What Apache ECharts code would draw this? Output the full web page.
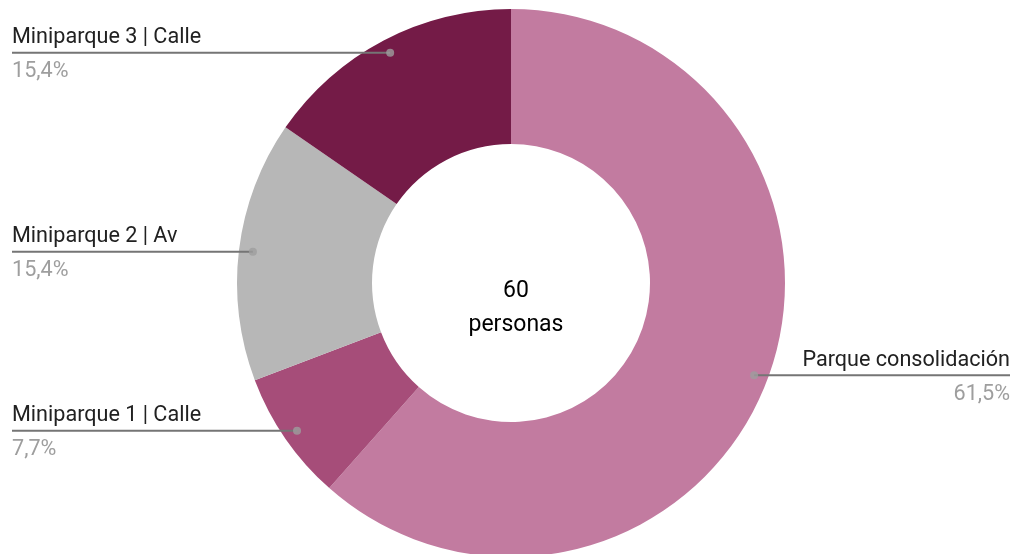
<!DOCTYPE html>
<html>
<head>
<meta charset="utf-8">
<script src="https://cdn.jsdelivr.net/npm/echarts@6/dist/echarts.min.js"></script>
<style>
html,body{margin:0;padding:0;background:#fff;}
#chart{width:1023px;height:554px;}
</style>
</head>
<body>
<div id="chart"></div>
<script>
const categories = ['Parque consolidación', 'Miniparque 1 | Calle', 'Miniparque 2 | Av', 'Miniparque 3 | Calle'];
const values = [8, 1, 2, 2];
const colors = ['#c27ba0', '#a64d79', '#b7b7b7', '#741b47'];
const centerText = '60\npersonas';

const CX = 511, CY = 283, R_OUT = 274, R_IN = 139, R_DOT = 260;
const total = values.reduce((a, b) => a + b, 0);
const mids = [];
let acc = 0;
values.forEach(v => { mids.push(acc + v / 2); acc += v; });
const pct = v => (v / total * 100).toFixed(1).replace('.', ',') + '%';

const chart = echarts.init(document.getElementById('chart'));
chart.setOption({
  animation: false,
  backgroundColor: '#ffffff',
  title: {
    text: centerText,
    left: CX,
    top: 269,
    textAlign: 'center',
    textStyle: { fontFamily: 'Roboto', fontSize: 23, fontWeight: 'normal', color: '#000', lineHeight: 34 }
  },
  polar: { center: [CX, CY], radius: R_OUT },
  angleAxis: { type: 'value', min: 0, max: total, startAngle: 90, clockwise: true, show: false },
  radiusAxis: { type: 'value', min: 0, max: R_OUT, show: false },
  series: [
    {
      type: 'pie',
      center: [CX, CY],
      radius: [R_IN, R_OUT],
      startAngle: 90,
      clockwise: true,
      z: 1,
      label: { show: false },
      labelLine: { show: false },
      data: categories.map((c, i) => ({ name: c, value: values[i], itemStyle: { color: colors[i] } }))
    },
    {
      type: 'pie',
      center: [CX, CY],
      radius: [R_IN, R_OUT],
      startAngle: 90,
      clockwise: true,
      z: 5,
      silent: true,
      avoidLabelOverlap: false,
      itemStyle: { color: 'rgba(0,0,0,0)' },
      data: categories.map((c, i) => ({ name: c, value: values[i] })),
      label: {
        show: true,
        position: 'outside',
        formatter: p => '{n|' + p.name + '}\n{p|' + pct(p.value) + '}',
        rich: {
          n: { fontFamily: 'Roboto', fontSize: 21.6, color: '#212121', lineHeight: 34 },
          p: { fontFamily: 'Roboto', fontSize: 21.6, color: '#9e9e9e', lineHeight: 34 }
        }
      },
      labelLine: { show: true, length: 5, length2: 5, smooth: false, lineStyle: { color: '#757575', width: 2 } },
      labelLayout: function (params) {
        const i = params.dataIndex;
        const a = mids[i] / total * Math.PI * 2;
        const px = CX + R_DOT * Math.sin(a);
        const py = CY - R_DOT * Math.cos(a);
        const left = px < CX;
        const ex = left ? 12 : 1010;
        return {
          x: ex,
          y: py + 2,
          align: left ? 'left' : 'right',
          verticalAlign: 'middle',
          labelLinePoints: [[px, py], [px, py], [ex, py]]
        };
      }
    },
    {
      type: 'scatter',
      coordinateSystem: 'polar',
      symbol: 'circle',
      symbolSize: 8,
      z: 10,
      silent: true,
      itemStyle: { color: '#9e9e9e' },
      data: mids.map(m => [R_DOT, m])
    }
  ]
});
</script>
</body>
</html>
